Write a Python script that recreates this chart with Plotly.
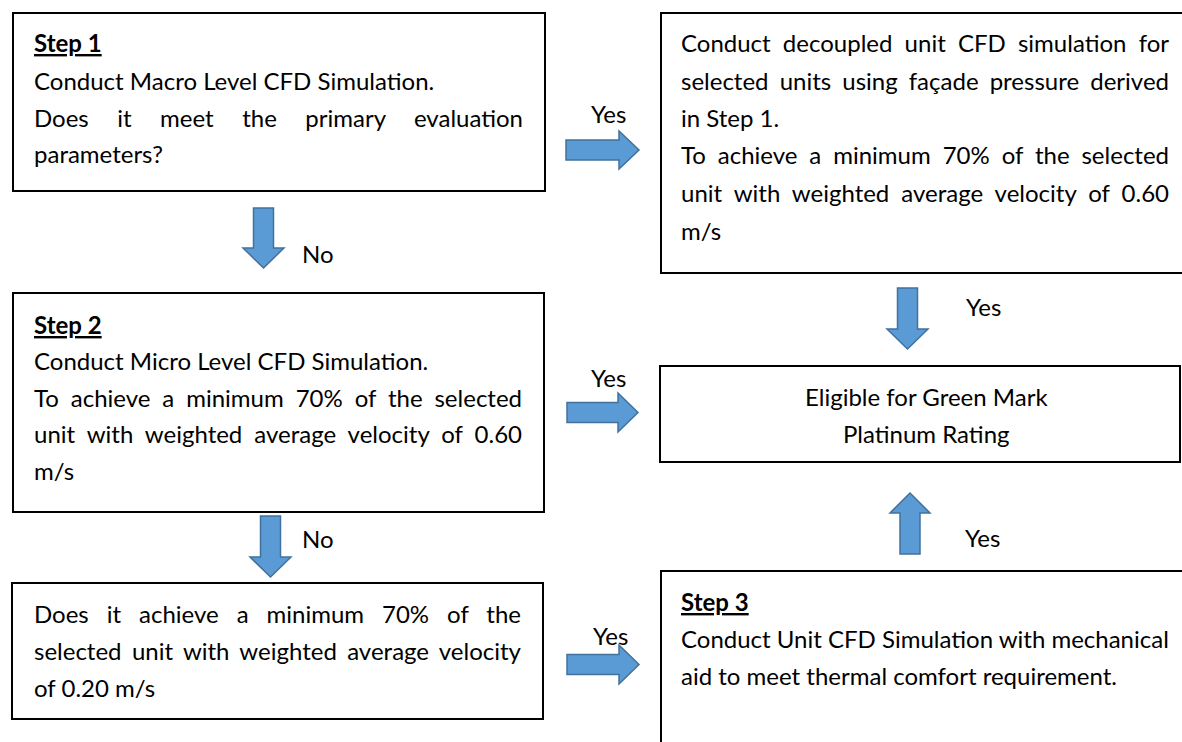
import json
import plotly.graph_objects as go

W, H = 1182, 742
FONT = "Lato"
FS = 24
BLUE = "#5B9BD5"
BLUE_EDGE = "#41719C"

# Boxes: (x0, x1, y0, y1) in pixel space of the chart
box_x0 = [13, 13, 12, 661, 660, 661]
box_x1 = [545, 544, 543, 1195, 1180, 1195]
box_y0 = [13, 293, 583, 13, 366, 571]
box_y1 = [191, 512, 719, 273, 462, 760]

# Text lines: (text, x, y, align, justify_right_edge or None)
lines = [
    ("<u><b>Step 1</b></u>", 34, 42, "left", None),
    ("Conduct Macro Level CFD Simulation.", 34, 80, "left", None),
    ("Does it meet the primary evaluation", 34, 117, "left", 523),
    ("parameters?", 34, 153, "left", None),
    ("<u><b>Step 2</b></u>", 34, 324, "left", None),
    ("Conduct Micro Level CFD Simulation.", 34, 360, "left", None),
    ("To achieve a minimum 70% of the selected", 34, 397, "left", 522),
    ("unit with weighted average velocity of 0.60", 34, 433, "left", 522),
    ("m/s", 34, 470, "left", None),
    ("Does it achieve a minimum 70% of the", 34, 613, "left", 521),
    ("selected unit with weighted average velocity", 34, 650, "left", 521),
    ("of 0.20 m/s", 34, 687, "left", None),
    ("Conduct decoupled unit CFD simulation for", 681, 42, "left", 1169),
    ("selected units using façade pressure derived", 681, 80, "left", 1169),
    ("in Step 1.", 681, 117, "left", None),
    ("To achieve a minimum 70% of the selected", 681, 154, "left", 1169),
    ("unit with weighted average velocity of 0.60", 681, 192, "left", 1169),
    ("m/s", 681, 230, "left", None),
    ("Eligible for Green Mark", 926, 396, "center", None),
    ("Platinum Rating", 926, 433, "center", None),
    ("<u><b>Step 3</b></u>", 681, 601, "left", None),
    ("Conduct Unit CFD Simulation with mechanical", 681, 638, "left", None),
    ("aid to meet thermal comfort requirement.", 681, 675, "left", None),
]

# Block arrows: direction and bounding box
arrow_dir = ["right", "down", "right", "down", "right", "down", "up"]
arrow_x0 = [566, 243, 567, 250, 567, 887, 890]
arrow_x1 = [639, 284, 638, 291, 639, 928, 930]
arrow_y0 = [131, 208, 393, 516, 645, 288, 493]
arrow_y1 = [169, 268, 432, 577, 684, 349, 554]

# Arrow labels
label_text = ["Yes", "No", "Yes", "No", "Yes", "Yes", "Yes"]
label_x = [608, 318, 608, 318, 610, 983, 982]
label_y = [113, 253, 377, 538, 635, 306, 537]

HEAD = 20
SHAFT_HALF = 10


def arrow_path(d, x0, x1, y0, y1):
    if d in ("right", "left"):
        yc = (y0 + y1) / 2
        sh = SHAFT_HALF
        hl = HEAD
        if d == "right":
            pts = [(x0, yc - sh), (x1 - hl, yc - sh), (x1 - hl, y0), (x1, yc),
                   (x1 - hl, y1), (x1 - hl, yc + sh), (x0, yc + sh)]
        else:
            pts = [(x1, yc - sh), (x0 + hl, yc - sh), (x0 + hl, y0), (x0, yc),
                   (x0 + hl, y1), (x0 + hl, yc + sh), (x1, yc + sh)]
    else:
        xc = (x0 + x1) / 2
        sw = SHAFT_HALF
        hl = HEAD
        if d == "down":
            pts = [(xc - sw, y0), (xc - sw, y1 - hl), (x0, y1 - hl), (xc, y1),
                   (x1, y1 - hl), (xc + sw, y1 - hl), (xc + sw, y0)]
        else:
            pts = [(xc - sw, y1), (xc - sw, y0 + hl), (x0, y0 + hl), (xc, y0),
                   (x1, y0 + hl), (xc + sw, y0 + hl), (xc + sw, y1)]
    return "M " + " L ".join(f"{x},{y}" for x, y in pts) + " Z"


fig = go.Figure()
fig.add_trace(go.Scatter(x=[0, W], y=[0, H], mode="markers",
                         marker=dict(opacity=0), hoverinfo="skip", showlegend=False))

shapes = []
for x0, x1, y0, y1 in zip(box_x0, box_x1, box_y0, box_y1):
    shapes.append(dict(type="rect", xref="x", yref="y", x0=x0, x1=x1, y0=y0, y1=y1,
                       line=dict(color="black", width=2), fillcolor="white", layer="below"))
for d, x0, x1, y0, y1 in zip(arrow_dir, arrow_x0, arrow_x1, arrow_y0, arrow_y1):
    shapes.append(dict(type="path", xref="x", yref="y", path=arrow_path(d, x0, x1, y0, y1),
                       fillcolor=BLUE, line=dict(color=BLUE_EDGE, width=1.5)))

annotations = []
justify = {}
for t, x, y, al, jr in lines:
    annotations.append(dict(text=t, x=x - 2 if al == "left" else x, y=y, xref="x", yref="y",
                            showarrow=False, align=al,
                            xanchor="left" if al == "left" else "center", yanchor="middle",
                            font=dict(family=FONT, size=FS, color="black")))
    if jr is not None:
        justify[t] = jr - x
for t, x, y in zip(label_text, label_x, label_y):
    annotations.append(dict(text=t, x=x, y=y, xref="x", yref="y", showarrow=False,
                            xanchor="center", yanchor="middle",
                            font=dict(family=FONT, size=FS, color="black")))

fig.update_layout(
    width=W, height=H, margin=dict(l=0, r=0, t=0, b=0),
    paper_bgcolor="white", plot_bgcolor="white",
    xaxis=dict(range=[0, W], visible=False, fixedrange=True),
    yaxis=dict(range=[H, 0], visible=False, fixedrange=True),
    shapes=shapes, annotations=annotations,
)

post = """
document.body.style.margin = '0';
var gd = document.getElementById('{plot_id}');
var targets = %s;
function justifyText() {
  var els = gd.querySelectorAll('text.annotation-text');
  els.forEach(function (t) {
    var key = t.textContent;
    if (Object.prototype.hasOwnProperty.call(targets, key)) {
      t.style.wordSpacing = '0px';
      var len = t.getComputedTextLength();
      var n = (key.match(/ /g) || []).length;
      if (n > 0) {
        var extra = (targets[key] - len) / n;
        t.style.wordSpacing = extra + 'px';
      }
    }
  });
}
justifyText();
setTimeout(justifyText, 200);
gd.on && gd.on('plotly_afterplot', justifyText);
""" % json.dumps(justify, ensure_ascii=False)

fig.write_html("out.html", config={"displayModeBar": False}, post_script=post)
